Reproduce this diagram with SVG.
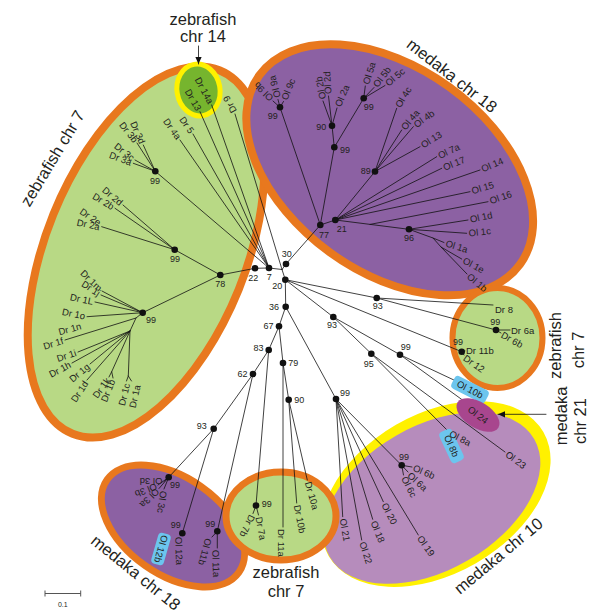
<svg xmlns="http://www.w3.org/2000/svg" width="600" height="616" viewBox="0 0 600 616">
<defs>
<marker id="ah" viewBox="0 0 10 10" refX="10" refY="5" markerWidth="8" markerHeight="7" orient="auto" markerUnits="userSpaceOnUse"><path d="M0,0.5 L10,5 L0,9.5 z" fill="#111"/></marker>
<style>
.t{font-family:"Liberation Sans",Arial,sans-serif;fill:#231f20}
.lf{font-size:9.5px}
.e{text-anchor:end}
.s{text-anchor:start}
.m{text-anchor:middle}
.bs{font-size:9px;text-anchor:middle}
.big{font-size:16.5px;text-anchor:middle}
.br{stroke:#111;stroke-width:0.8;fill:none;stroke-linecap:round}
.nd{fill:#111}
.green{fill:#b8d985;stroke:#e8781e}
.purple{fill:#8c61a3;stroke:#e8781e}
.blue{fill:#6cc5ee}
</style>
</defs>
<rect width="600" height="616" fill="#fff"/>

<g id="clusters">
<ellipse class="green" cx="146" cy="252" rx="100" ry="196" stroke-width="8" transform="rotate(22 146 252)"/>
<ellipse class="purple" cx="389.7" cy="169.8" rx="161" ry="102" stroke-width="8" transform="rotate(36 389.7 169.8)"/>
<ellipse cx="198.5" cy="90" rx="21.5" ry="26" fill="#76b52e" stroke="#fff100" stroke-width="5" transform="rotate(-10 198.5 90)"/>
<ellipse class="green" cx="497.5" cy="338" rx="45" ry="50" stroke-width="6"/>
<ellipse cx="436" cy="494" rx="124" ry="80" fill="#fff100" transform="rotate(-30 436 494)"/>
<ellipse cx="432" cy="498" rx="118" ry="72" fill="#b68cbc" transform="rotate(-30 432 498)"/>
<ellipse class="purple" cx="173" cy="526" rx="80.5" ry="48.5" stroke-width="7" transform="rotate(35 173 526)"/>
<ellipse class="green" cx="281" cy="516" rx="55" ry="44" stroke-width="7"/>
</g>

<g id="connectors">
<path class="br" d="M269 268 L255 268.3 M255 268.3 L220.3 275 M220.3 275 L174.7 249.7 M220.3 275 L142.7 312.7 M269 268 L155.3 171.3 M269 268 L282 269.5 M282 269.5 L286 264 M282 269.5 L285.3 279.7 M286 264 L320.3 225 M320.3 225 L280 107.3 M320.3 225 L334.3 147.3 M320.3 225 L335.3 220 M334.3 147.3 L332 125.7 M334.3 147.3 L363.7 98.3 M335.3 220 L375 171.5 M335.3 220 L409 229.3 M285.3 279.7 L376.7 298 M285.3 279.7 L461.7 351.7 M285.3 279.7 L333.3 317 M285.3 279.7 L285.7 306.7 M333.3 317 L371.3 353.7 M333.3 317 L400 354.7 M285.7 306.7 L279 326.3 M285.7 306.7 L336 399 M279 326.3 L268.7 350 M279 326.3 L283 363 M268.7 350 L253 374 M268.7 350 L256 505.5 M253 374 L213.7 428.7 M253 374 L217.3 531.3 M213.7 428.7 L168.7 477.3 M213.7 428.7 L182.3 533.3 M283 363 L288.7 399.7 M336 399 L401.7 465.3"/>
<path class="br" d="M269 268 L211.7 105 M269 268 L200 111.7 M269 268 L193 134 M269 268 L180 140 M282 269.5 L235 114
M155.3 171.3 L143.3 145 M155.3 171.3 L137 143 M155.3 171.3 L135 160 M155.3 171.3 L133.3 163.3
M174.7 249.7 L123 205 M174.7 249.7 L115 208.3 M174.7 249.7 L101.7 226.7
M142.7 312.7 L102 291 M142.7 312.7 L101 295 M142.7 312.7 L95 302 M142.7 312.7 L87 316.7
M142.7 312.7 L136 318 L65 340 M136 318 L130 331 L78 352 M130 331 L72 363 M130 331 L90 364 M130 331 L87 380 M130 331 L111.7 371.7 L109 377 M111.7 371.7 L113 378 M130 331 L128.3 376 L126.5 381 M128.3 376 L131.5 381
M280 107.3 L273 101 M280 107.3 L278 99.5 M280 107.3 L283.5 101.5
M332 125.7 L323 101 M332 125.7 L328.5 96 M332 125.7 L337 108
M363.7 98.3 L365.3 86 M363.7 98.3 L374 87.5 M363.7 98.3 L385 85.5
M375 171.5 L396.7 108.3 M375 171.5 L401.7 130 M375 171.5 L413.3 126.7 M375 171.5 L420 146.7
M335.3 220 L436.7 156.7 M335.3 220 L441.7 168.3 M335.3 220 L480 170 M335.3 220 L470 191.7 M370 224.4 L488 201.7
M409 229.3 L468 220 M409 229.3 L466.7 233.3 M409 229.3 L433 238 L444 242.5 M433 238 L441 247 L461.7 259 M441 247 L467 274
M376.7 298 L493 305 M376.7 298 L496 330 M496 330 L510 330 M496 330 L501 333
M461.7 351.7 L465 351 M461.7 351.7 L464 355
M400 354.7 L456 381 M400 354.7 L468 404
M371.3 353.7 L448 431 M371.3 353.7 L505 452
M336 399 L342.7 516.7 M336 399 L361.7 540 M336 399 L372.7 519.3 M336 399 L383.3 501.7 M336 399 L418.3 535
M401.7 465.3 L412 467 M401.7 465.3 L408 472 M401.7 465.3 L403.5 475
M288.7 399.7 L296.7 503 M288.7 399.7 L307.3 480 M283 363 L283 527
M256 505.5 L258.5 515 M256 505.5 L253 513.5
M217.3 531.3 L217.3 548 M217.3 531.3 L212 537
M168.7 477.3 L164 481.5 M168.7 477.3 L158 485 M168.7 477.3 L159 488.5 M168.7 477.3 L164 489"/>
<line class="br" x1="198.5" y1="46" x2="198.5" y2="64" marker-end="url(#ah)"/>
<line class="br" x1="546" y1="414.3" x2="498" y2="414.3" marker-end="url(#ah)"/>
</g>

<g id="nodes">
<g id="n7"><circle class="nd" cx="269" cy="268" r="3.3"/><text class="t bs" x="269.3" y="277.3" dy=".35em">7</text></g>
<g id="n22"><circle class="nd" cx="255" cy="268.3" r="3.3"/><text class="t bs" x="253.3" y="278.3" dy=".35em">22</text></g>
<g id="n78"><circle class="nd" cx="220.3" cy="275" r="3.3"/><text class="t bs" x="220.3" y="283.7" dy=".35em">78</text></g>
<g id="n30"><circle class="nd" cx="286" cy="264" r="3.3"/><text class="t bs" x="286.7" y="254" dy=".35em">30</text></g>
<g id="n20"><circle class="nd" cx="285.3" cy="279.7" r="3.3"/><text class="t bs" x="277.3" y="285.7" dy=".35em">20</text></g>
<g id="n36"><circle class="nd" cx="285.7" cy="306.7" r="3.3"/><text class="t bs" x="274" y="306.7" dy=".35em">36</text></g>
<g id="n67"><circle class="nd" cx="279" cy="326.3" r="3.3"/><text class="t bs" x="268.5" y="325.7" dy=".35em">67</text></g>
<g id="n83"><circle class="nd" cx="268.7" cy="350" r="3.3"/><text class="t bs" x="258.5" y="347.5" dy=".35em">83</text></g>
<g id="n79"><circle class="nd" cx="283" cy="363" r="3.3"/><text class="t bs" x="293.3" y="363.3" dy=".35em">79</text></g>
<g id="n62"><circle class="nd" cx="253" cy="374" r="3.3"/><text class="t bs" x="242.5" y="373.5" dy=".35em">62</text></g>
<g id="n93a"><circle class="nd" cx="376.7" cy="298" r="3.3"/><text class="t bs" x="377.7" y="306" dy=".35em">93</text></g>
<g id="n93b"><circle class="nd" cx="333.3" cy="317" r="3.3"/><text class="t bs" x="332" y="325" dy=".35em">93</text></g>
<g id="n95"><circle class="nd" cx="371.3" cy="353.7" r="3.3"/><text class="t bs" x="368.7" y="364" dy=".35em">95</text></g>
<g id="n99r"><circle class="nd" cx="400" cy="354.7" r="3.3"/><text class="t bs" x="405.7" y="347.3" dy=".35em">99</text></g>
<g id="n77"><circle class="nd" cx="320.3" cy="225" r="3.3"/><text class="t bs" x="324" y="235.3" dy=".35em">77</text></g>
<g id="n21"><circle class="nd" cx="335.3" cy="220" r="3.3"/><text class="t bs" x="341.7" y="229.3" dy=".35em">21</text></g>
<g id="n96"><circle class="nd" cx="409" cy="229.3" r="3.3"/><text class="t bs" x="409" y="238.3" dy=".35em">96</text></g>
<g id="n89"><circle class="nd" cx="375" cy="171.5" r="3.3"/><text class="t bs" x="365.7" y="171" dy=".35em">89</text></g>
<g id="n99o2"><circle class="nd" cx="334.3" cy="147.3" r="3.3"/><text class="t bs" x="345" y="149.7" dy=".35em">99</text></g>
<g id="n90"><circle class="nd" cx="332" cy="125.7" r="3.3"/><text class="t bs" x="321.3" y="127.3" dy=".35em">90</text></g>
<g id="n99o5"><circle class="nd" cx="363.7" cy="98.3" r="3.3"/><text class="t bs" x="368.7" y="107.3" dy=".35em">99</text></g>
<g id="n99o9"><circle class="nd" cx="280" cy="107.3" r="3.3"/><text class="t bs" x="272.7" y="115.7" dy=".35em">99</text></g>
<g id="n99d3"><circle class="nd" cx="155.3" cy="171.3" r="3.3"/><text class="t bs" x="155" y="181" dy=".35em">99</text></g>
<g id="n99d2"><circle class="nd" cx="174.7" cy="249.7" r="3.3"/><text class="t bs" x="175" y="258.7" dy=".35em">99</text></g>
<g id="n99d1"><circle class="nd" cx="142.7" cy="312.7" r="3.3"/><text class="t bs" x="151" y="320" dy=".35em">99</text></g>
<g id="n99d6"><circle class="nd" cx="496" cy="330" r="3.3"/><text class="t bs" x="495.3" y="321.7" dy=".35em">99</text></g>
<g id="n99d11"><circle class="nd" cx="461.7" cy="351.7" r="3.3"/><text class="t bs" x="458" y="342" dy=".35em">99</text></g>
<g id="n99o21"><circle class="nd" cx="336" cy="399" r="3.3"/><text class="t bs" x="345" y="393.3" dy=".35em">99</text></g>
<g id="n99o6"><circle class="nd" cx="401.7" cy="465.3" r="3.3"/><text class="t bs" x="404" y="457.3" dy=".35em">99</text></g>
<g id="n90b"><circle class="nd" cx="288.7" cy="399.7" r="3.3"/><text class="t bs" x="299.3" y="399.7" dy=".35em">90</text></g>
<g id="n93c"><circle class="nd" cx="213.7" cy="428.7" r="3.3"/><text class="t bs" x="201.7" y="426.3" dy=".35em">93</text></g>
<g id="n99o3"><circle class="nd" cx="168.7" cy="477.3" r="3.3"/><text class="t bs" x="175" y="485" dy=".35em">99</text></g>
<g id="n99o12"><circle class="nd" cx="182.3" cy="533.3" r="3.3"/><text class="t bs" x="175.7" y="524.7" dy=".35em">99</text></g>
<g id="n99o11"><circle class="nd" cx="217.3" cy="531.3" r="3.3"/><text class="t bs" x="210.3" y="524" dy=".35em">99</text></g>
<g id="n99d7"><circle class="nd" cx="256" cy="505.5" r="3.3"/><text class="t bs" x="266.7" y="504.3" dy=".35em">99</text></g>
</g>

<g id="leaves">
<g id="l-Dr14a"><text class="t lf e" dy=".35em" transform="translate(210.8 103.2) rotate(62)">Dr 14a</text></g>
<g id="l-Dr13"><text class="t lf e" dy=".35em" transform="translate(199 110) rotate(60)">Dr 13</text></g>
<g id="l-Dr5"><text class="t lf e" dy=".35em" transform="translate(191.9 132.4) rotate(55)">Dr 5</text></g>
<g id="l-Dr4a"><text class="t lf e" dy=".35em" transform="translate(178.9 138.4) rotate(55)">Dr 4a</text></g>
<g id="l-Dr9"><text class="t lf s" dy=".35em" transform="translate(234 112.2) rotate(-118)">Dr 9</text></g>
<g id="l-Dr3d"><text class="t lf e" dy=".35em" transform="translate(142.5 143.2) rotate(66)">Dr 3d</text></g>
<g id="l-Dr3b"><text class="t lf e" dy=".35em" transform="translate(135.8 141.4) rotate(52)">Dr 3b</text></g>
<g id="l-Dr3c"><text class="t lf e" dy=".35em" transform="translate(133.4 158.8) rotate(38)">Dr 3c</text></g>
<g id="l-Dr3a"><text class="t lf e" dy=".35em" transform="translate(131.4 162.6) rotate(20)">Dr 3a</text></g>
<g id="l-Dr2d"><text class="t lf e" dy=".35em" transform="translate(121.5 203.7) rotate(40)">Dr 2d</text></g>
<g id="l-Dr2b"><text class="t lf e" dy=".35em" transform="translate(113.3 207.3) rotate(31)">Dr 2b</text></g>
<g id="l-Dr2e"><text class="t lf e" dy=".35em" transform="translate(100 223.5) rotate(34)">Dr 2e</text></g>
<g id="l-Dr2a"><text class="t lf e" dy=".35em" transform="translate(99.7 227) rotate(12)">Dr 2a</text></g>
<g id="l-Dr1m"><text class="t lf e" dy=".35em" transform="translate(100.6 289.6) rotate(44)">Dr 1m</text></g>
<g id="l-Dr1j"><text class="t lf e" dy=".35em" transform="translate(99.3 293.9) rotate(33)">Dr 1j</text></g>
<g id="l-Dr1L"><text class="t lf e" dy=".35em" transform="translate(93 301.6) rotate(12)">Dr 1L</text></g>
<g id="l-Dr1o"><text class="t lf e" dy=".35em" transform="translate(85 316.3) rotate(12)">Dr 1o</text></g>
<g id="l-Dr1n"><text class="t lf e" dy=".35em" transform="translate(81 326) rotate(-15)">Dr 1n</text></g>
<g id="l-Dr1f"><text class="t lf e" dy=".35em" transform="translate(63.1 340.6) rotate(-17)">Dr 1f</text></g>
<g id="l-Dr1i"><text class="t lf e" dy=".35em" transform="translate(76.1 352.6) rotate(-18)">Dr 1i</text></g>
<g id="l-Dr1h"><text class="t lf e" dy=".35em" transform="translate(70.2 364) rotate(-28)">Dr 1h</text></g>
<g id="l-Dr1g"><text class="t lf e" dy=".35em" transform="translate(88.5 365.3) rotate(-40)">Dr 1g</text></g>
<g id="l-Dr1d"><text class="t lf e" dy=".35em" transform="translate(85.9 381.7) rotate(-57)">Dr 1d</text></g>
<g id="l-Dr1k"><text class="t lf e" dy=".35em" transform="translate(107.9 378.6) rotate(-55)">Dr 1k</text></g>
<g id="l-Dr1b"><text class="t lf e" dy=".35em" transform="translate(112.3 379.9) rotate(-68)">Dr 1b</text></g>
<g id="l-Dr1c"><text class="t lf e" dy=".35em" transform="translate(127 383.5) rotate(-76)">Dr 1c</text></g>
<g id="l-Dr1a"><text class="t lf e" dy=".35em" transform="translate(137.5 385) rotate(-77)">Dr 1a</text></g>

<g id="l-Ol9b"><text class="t lf s" dy=".35em" transform="translate(271.6 99.6) rotate(-135)">Ol 9b</text></g>
<g id="l-Ol9a"><text class="t lf s" dy=".35em" transform="translate(277.5 97.6) rotate(-104)">Ol 9a</text></g>
<g id="l-Ol9c"><text class="t lf s" dy=".35em" transform="translate(284.2 99.6) rotate(-68)">Ol 9c</text></g>
<g id="l-Ol2b"><text class="t lf s" dy=".35em" transform="translate(322.6 99) rotate(-100)">Ol 2b</text></g>
<g id="l-Ol2d"><text class="t lf s" dy=".35em" transform="translate(328.3 94) rotate(-94)">Ol 2d</text></g>
<g id="l-Ol2a"><text class="t lf s" dy=".35em" transform="translate(337.8 106.2) rotate(-67)">Ol 2a</text></g>
<g id="l-Ol5a"><text class="t lf s" dy=".35em" transform="translate(365.9 84.1) rotate(-73)">Ol 5a</text></g>
<g id="l-Ol5b"><text class="t lf s" dy=".35em" transform="translate(375.2 85.9) rotate(-53)">Ol 5b</text></g>
<g id="l-Ol5c"><text class="t lf s" dy=".35em" transform="translate(386.5 84.2) rotate(-40)">Ol 5c</text></g>
<g id="l-Ol4c"><text class="t lf s" dy=".35em" transform="translate(397.7 106.6) rotate(-59)">Ol 4c</text></g>
<g id="l-Ol4a"><text class="t lf s" dy=".35em" transform="translate(403 128.5) rotate(-50)">Ol 4a</text></g>
<g id="l-Ol4b"><text class="t lf s" dy=".35em" transform="translate(414.9 125.5) rotate(-36)">Ol 4b</text></g>
<g id="l-Ol13"><text class="t lf s" dy=".35em" transform="translate(421.7 145.6) rotate(-32)">Ol 13</text></g>
<g id="l-Ol7a"><text class="t lf s" dy=".35em" transform="translate(438.5 155.9) rotate(-25)">Ol 7a</text></g>
<g id="l-Ol17"><text class="t lf s" dy=".35em" transform="translate(443.6 167.6) rotate(-22)">Ol 17</text></g>
<g id="l-Ol14"><text class="t lf s" dy=".35em" transform="translate(481.8 169.2) rotate(-23)">Ol 14</text></g>
<g id="l-Ol15"><text class="t lf s" dy=".35em" transform="translate(471.9 191.1) rotate(-17)">Ol 15</text></g>
<g id="l-Ol16"><text class="t lf s" dy=".35em" transform="translate(489.9 201) rotate(-19)">Ol 16</text></g>
<g id="l-Ol1d"><text class="t lf s" dy=".35em" transform="translate(470 219.6) rotate(-12)">Ol 1d</text></g>
<g id="l-Ol1c"><text class="t lf s" dy=".35em" transform="translate(468.7 233.1) rotate(-6)">Ol 1c</text></g>
<g id="l-Ol1a"><text class="t lf s" dy=".35em" transform="translate(445.9 243.1) rotate(17)">Ol 1a</text></g>
<g id="l-Ol1e"><text class="t lf s" dy=".35em" transform="translate(463.5 259.9) rotate(28)">Ol 1e</text></g>
<g id="l-Ol1b"><text class="t lf s" dy=".35em" transform="translate(468.5 275.3) rotate(40)">Ol 1b</text></g>

<g id="l-Dr8"><text class="t lf s" dy=".35em" transform="translate(495 309.3)">Dr 8</text></g>
<g id="l-Dr6a"><text class="t lf s" dy=".35em" transform="translate(511 330.7)">Dr 6a</text></g>
<g id="l-Dr6b"><text class="t lf s" dy=".35em" transform="translate(502 334) rotate(30)">Dr 6b</text></g>
<g id="l-Dr11b"><text class="t lf s" dy=".35em" transform="translate(466 350.7)">Dr 11b</text></g>
<g id="l-Dr12"><text class="t lf s" dy=".35em" transform="translate(464.5 357) rotate(35)">Dr 12</text></g>
<g id="l-Ol10b"><rect class="blue" x="-19" y="-7" width="38" height="14" rx="4" transform="translate(470 389.5) rotate(27)"/><text class="t lf m" dy=".35em" transform="translate(470 389.5) rotate(27)">Ol 10b</text></g>
<g id="l-Ol24"><ellipse cx="0" cy="0" rx="24" ry="13" fill="#a8468e" transform="translate(478 415) rotate(32)"/><text class="t lf m" dy=".35em" transform="translate(478 415) rotate(38)">Ol 24</text></g>
<g id="l-Ol8b"><rect class="blue" x="-17" y="-7" width="34" height="14" rx="4" transform="translate(451.5 446) rotate(65)"/><text class="t lf m" dy=".35em" transform="translate(451.5 446) rotate(65)">Ol 8b</text></g>
<g id="l-Ol8a"><text class="t lf s" dy=".35em" transform="translate(450 433) rotate(27)">Ol 8a</text></g>
<g id="l-Ol23"><text class="t lf s" dy=".35em" transform="translate(506.6 453.2) rotate(36)">Ol 23</text></g>
<g id="l-Ol6b"><text class="t lf s" dy=".35em" transform="translate(413.5 467.5) rotate(23)">Ol 6b</text></g>
<g id="l-Ol6a"><text class="t lf s" dy=".35em" transform="translate(409 474) rotate(42)">Ol 6a</text></g>
<g id="l-Ol6c"><text class="t lf s" dy=".35em" transform="translate(404 477) rotate(63)">Ol 6c</text></g>
<g id="l-Ol21"><text class="t lf s" dy=".35em" transform="translate(343 518.7) rotate(80)">Ol 21</text></g>
<g id="l-Ol22"><text class="t lf s" dy=".35em" transform="translate(362.3 541.9) rotate(72)">Ol 22</text></g>
<g id="l-Ol18"><text class="t lf s" dy=".35em" transform="translate(373.5 521.2) rotate(68)">Ol 18</text></g>
<g id="l-Ol20"><text class="t lf s" dy=".35em" transform="translate(384.2 503.5) rotate(63)">Ol 20</text></g>
<g id="l-Ol19"><text class="t lf s" dy=".35em" transform="translate(419.4 536.6) rotate(55)">Ol 19</text></g>

<g id="l-Dr10a"><text class="t lf s" dy=".35em" transform="translate(307.9 481.9) rotate(74)">Dr 10a</text></g>
<g id="l-Dr10b"><text class="t lf s" dy=".35em" transform="translate(297.1 505) rotate(79)">Dr 10b</text></g>
<g id="l-Dr11a"><text class="t lf s" dy=".35em" transform="translate(281.5 529) rotate(90)">Dr 11a</text></g>
<g id="l-Dr7a"><text class="t lf s" dy=".35em" transform="translate(258.8 517) rotate(80)">Dr 7a</text></g>
<g id="l-Dr7b"><text class="t lf s" dy=".35em" transform="translate(252.2 515.3) rotate(115)">Dr 7b</text></g>
<g id="l-Ol11a"><text class="t lf s" dy=".35em" transform="translate(215.5 550) rotate(88)">Ol 11a</text></g>
<g id="l-Ol11b"><text class="t lf s" dy=".35em" transform="translate(208.5 538.5) rotate(105)">Ol 11b</text></g>
<g id="l-Ol12a"><text class="t lf s" dy=".35em" transform="translate(178.5 537) rotate(88)">Ol 12a</text></g>
<g id="l-Ol12b"><rect class="blue" x="-16" y="-6.5" width="32" height="13" rx="4" transform="translate(161 549) rotate(106)"/><text class="t lf m" dy=".35em" transform="translate(161 549) rotate(106)">Ol 12b</text></g>
<g id="l-Ol3d"><text class="t lf s" dy=".35em" transform="translate(162.5 481.5) rotate(180)">Ol 3d</text></g>
<g id="l-Ol3b"><text class="t lf s" dy=".35em" transform="translate(156.5 486) rotate(158)">Ol 3b</text></g>
<g id="l-Ol3a"><text class="t lf s" dy=".35em" transform="translate(157.5 490) rotate(135)">Ol 3a</text></g>
<g id="l-Ol3c"><text class="t lf s" dy=".35em" transform="translate(163.5 491) rotate(98)">Ol 3c</text></g>
</g>

<g id="group-labels">
<g id="g-zf14"><text class="t big" x="203" y="25">zebrafish</text><text class="t big" x="203" y="42">chr 14</text></g>
<g id="g-zf7-left"><text class="t big" dy=".35em" transform="translate(52.5 158.3) rotate(-59)">zebrafish chr 7</text></g>
<g id="g-md18-top"><text class="t big" dy=".35em" transform="translate(452 75.5) rotate(38)">medaka chr 18</text></g>
<g id="g-zf7-right"><text class="t big" dy=".35em" transform="translate(555 345.5) rotate(-90)">zebrafish</text><text class="t big" dy=".35em" transform="translate(578 350) rotate(-90)">chr 7</text></g>
<g id="g-md21"><text class="t big" dy=".35em" transform="translate(561 416) rotate(-90)">medaka</text><text class="t big" dy=".35em" transform="translate(580 421) rotate(-90)">chr 21</text></g>
<g id="g-md10"><text class="t big" dy=".35em" transform="translate(498.3 555.8) rotate(-39.6)">medaka chr 10</text></g>
<g id="g-md18-bottom"><text class="t big" dy=".35em" transform="translate(135.8 572.5) rotate(39)">medaka chr 18</text></g>
<g id="g-zf7-bottom"><text class="t big" x="286" y="578">zebrafish</text><text class="t big" x="286" y="597">chr 7</text></g>
</g>

<g id="scale">
<path d="M45 593.5 H80.7 M45 590.5 V596.5 M80.7 590.5 V596.5" stroke="#555" stroke-width="1" fill="none"/>
<text class="t" x="62.8" y="607" font-size="7" text-anchor="middle" fill="#555">0.1</text>
</g>
</svg>
